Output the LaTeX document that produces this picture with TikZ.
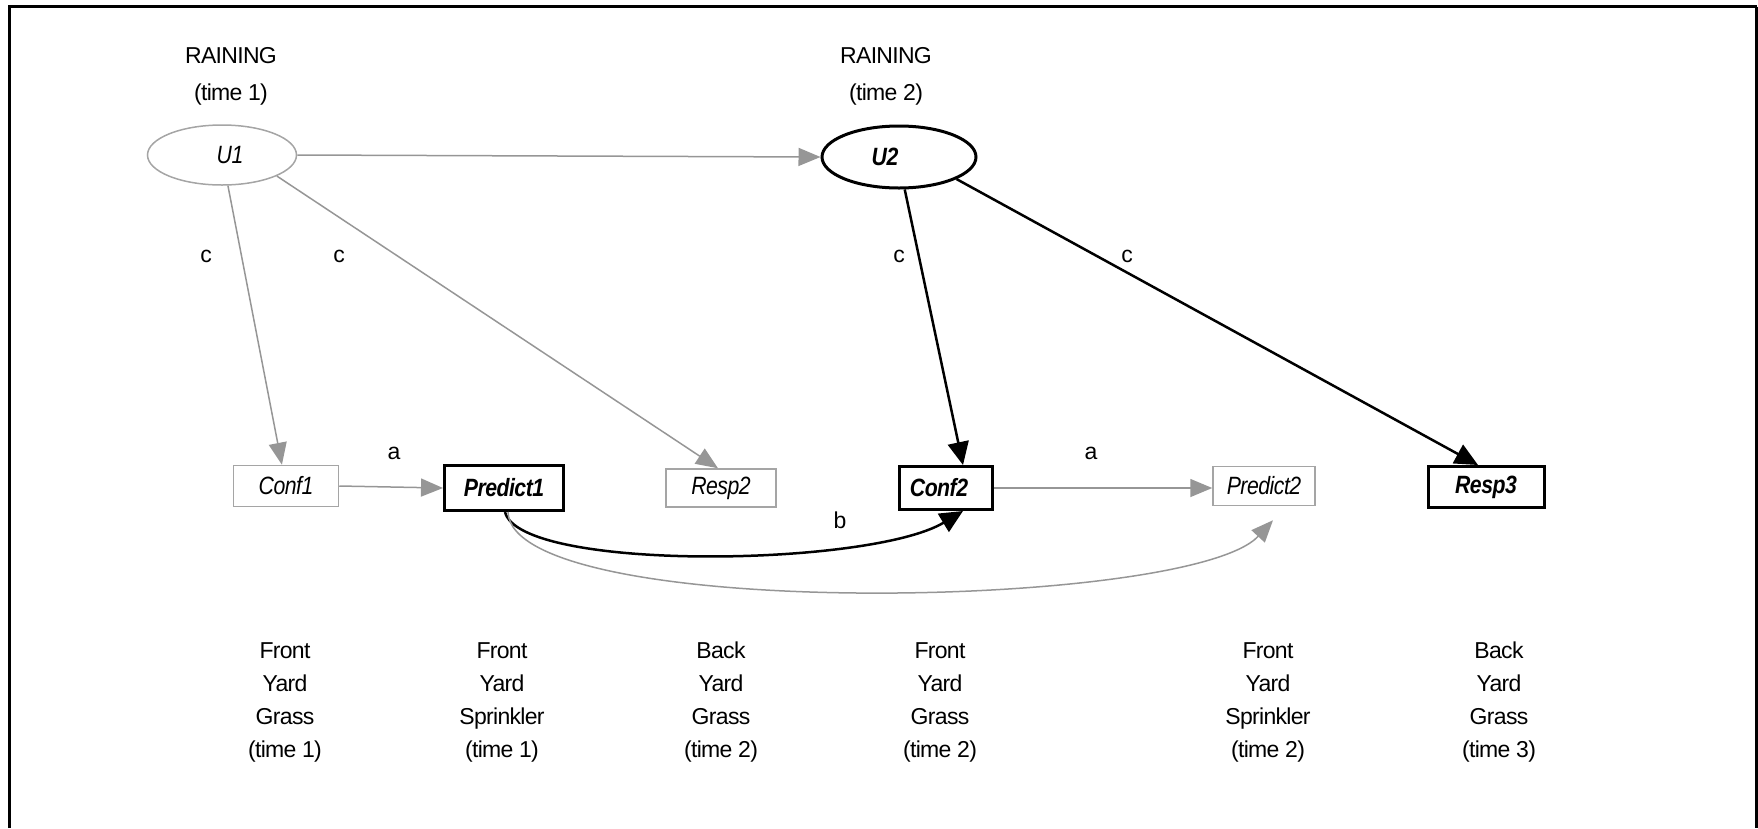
\documentclass[tikz,border=0pt]{standalone}
\usepackage{fontspec}
\setmainfont{Liberation Sans}[LetterSpace=-3]
\newfontfamily\nodefont{Liberation Sans}[FakeStretch=0.85,LetterSpace=-2]
\usetikzlibrary{arrows.meta,shapes.geometric}
\definecolor{lg}{RGB}{150,150,150}
\definecolor{bg}{RGB}{165,165,165}
\begin{document}
\begin{tikzpicture}[x=1pt,y=-1pt,
  txt/.style={font=\fontsize{23}{33}\selectfont, align=center, inner sep=0pt},
  gfont/.style={font=\nodefont\fontsize{25}{30}\selectfont\itshape, inner sep=0pt},
  bfont/.style={font=\nodefont\fontsize{25}{30}\selectfont\bfseries\itshape, inner sep=0pt},
  grayvar/.style={gfont, draw=bg, line width=1.5pt},
  blackvar/.style={bfont, draw=black, line width=3pt},
  garrow/.style={draw=lg, line width=1.5pt, -{Triangle[length=22pt,width=18pt]}},
  barrow/.style={draw=black, line width=2.5pt, -{Triangle[length=23pt,width=21pt]}},
]
\useasboundingbox (0,0) rectangle (1758,828);
\draw[line width=3.5pt] (9.5,828) -- (9.5,6.5) -- (1756.5,6.5);
\draw[line width=2.5pt] (1756.5,6.5) -- (1756.5,828);

% top labels
\node[txt] (r1) at (231,76) {RAINING\\[4pt](time 1)};
\node[txt] (r2) at (886,76) {RAINING\\[4pt](time 2)};

% latent nodes
\node[grayvar, ellipse, minimum width=149pt, minimum height=60pt] (U1) at (222,155) {};
\node[gfont] (U1t) at ([xshift=8pt]U1.center) {U1};
\node[blackvar, ellipse, minimum width=154pt, minimum height=62pt] (U2) at (899,157) {};
\node[bfont] (U2t) at ([xshift=-14pt]U2.center) {U2};

% observed nodes
\node[grayvar, minimum width=105pt, minimum height=41pt] (conf1) at (286,486) {Conf1};
\node[blackvar, minimum width=119pt, minimum height=45pt] (pred1) at (504,488) {Predict1};
\node[grayvar, minimum width=110pt, minimum height=38pt] (resp2) at (721,488) {Resp2};
\node[blackvar, minimum width=93pt, minimum height=43pt] (conf2) at (946,488) {};
\node[bfont] (conf2t) at ([xshift=-7pt]conf2.center) {Conf2};
\node[grayvar, minimum width=102pt, minimum height=39pt] (pred2) at (1264,486) {Predict2};
\node[blackvar, minimum width=116pt, minimum height=41pt] (resp3) at (1486,487) {Resp3};

% edges
\draw[garrow] (U1.east) -- (U2.west);
\draw[garrow] (U1) -- (conf1);
\draw[garrow] (U1.-21) -- ([xshift=-3pt]resp2.north);
\draw[barrow] (U2.-80) -- ([xshift=17pt]conf2.north);
\draw[barrow] (U2.-21) -- ([xshift=-8pt]resp3.north);
\draw[garrow] (conf1.east) -- (pred1.west);
\draw[garrow] (conf2.east) -- (pred2.west |- conf2.east);
\draw[barrow] ([xshift=1pt]pred1.south) .. controls (520,572) and (870,567) .. ([xshift=17pt]conf2.south);
\draw[garrow] ([xshift=4pt]pred1.south) .. controls (512,622) and (1190,610) .. ([xshift=9pt,yshift=-14pt]pred2.south);

% edge labels
\node[txt] (c1) at (206,256) {c};
\node[txt] (c2) at (339,256) {c};
\node[txt] (c3) at (899,256) {c};
\node[txt] (c4) at (1127,256) {c};
\node[txt] (a1) at (394,453) {a};
\node[txt] (a2) at (1091,453) {a};
\node[txt] (b1) at (840,520) {b};

% bottom labels
\node[txt] (g1) at (285,702) {Front\\Yard\\Grass\\(time 1)};
\node[txt] (g2) at (502,702) {Front\\Yard\\Sprinkler\\(time 1)};
\node[txt] (g3) at (721,702) {Back\\Yard\\Grass\\(time 2)};
\node[txt] (g4) at (940,702) {Front\\Yard\\Grass\\(time 2)};
\node[txt] (g5) at (1268,702) {Front\\Yard\\Sprinkler\\(time 2)};
\node[txt] (g6) at (1499,702) {Back\\Yard\\Grass\\(time 3)};
\end{tikzpicture}
\end{document}
